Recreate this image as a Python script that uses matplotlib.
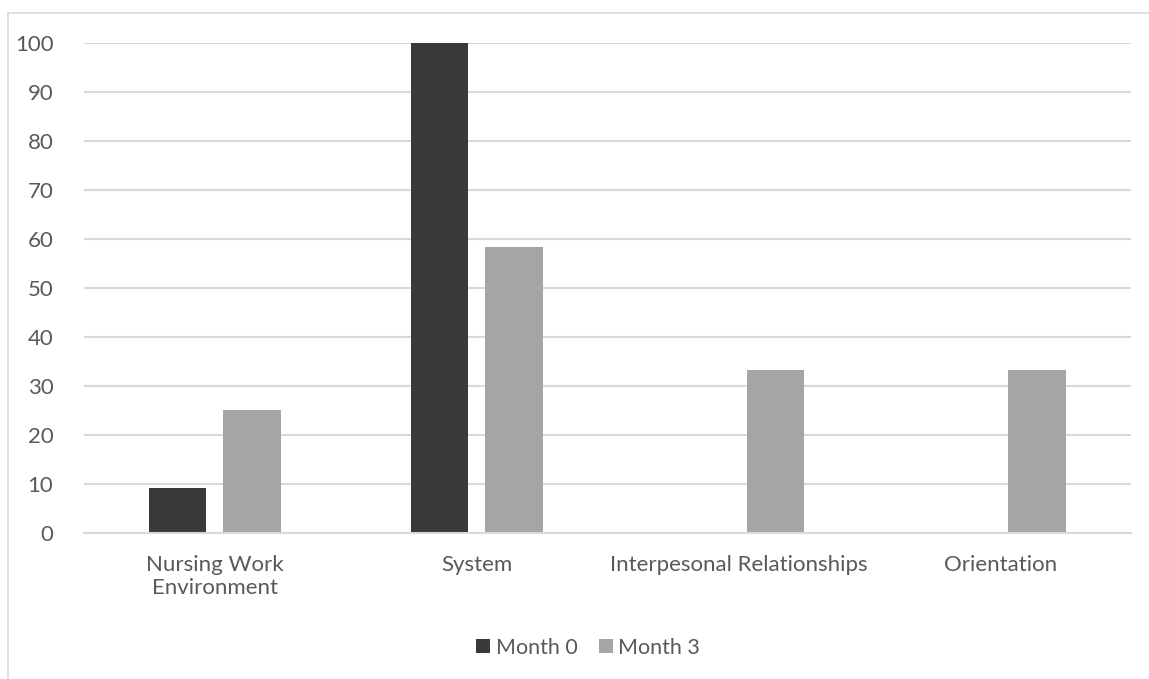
import numpy as np
import matplotlib.pyplot as plt
from matplotlib.lines import Line2D

# datos
categorias = ['Nursing Work\nEnvironment', 'System', 'Interpesonal Relationships', 'Orientation']
mes0 = [9.1, 100, 0, 0]
mes3 = [25, 58.3, 33.3, 33.3]
ticks_y = [0, 10, 20, 30, 40, 50, 60, 70, 80, 90, 100]

plt.rcParams['font.family'] = ['Lato', 'DejaVu Sans']
gris_texto = '#595959'
gris_linea = '#d9d9d9'
tam = 16

fig = plt.figure(figsize=(11.49, 6.79), dpi=100)
ax = fig.add_axes([0.0731, 0.215, 0.9112, 0.7218])

x = np.arange(len(categorias))
ancho = 0.22
ax.bar(x - 0.142, mes0, ancho, color='#3a3938', label='Month 0', zorder=3)
ax.bar(x + 0.142, mes3, ancho, color='#a5a5a5', label='Month 3', zorder=3)

ax.set_xlim(-0.5, len(categorias) - 0.5)
ax.set_ylim(0, 100)
ax.set_yticks(ticks_y)
ax.set_xticks(x)
ax.set_xticklabels(categorias, linespacing=1.2)
ax.yaxis.grid(True, color=gris_linea, linewidth=1.5, zorder=0)
ax.tick_params(axis='both', length=0, labelsize=tam, colors=gris_texto)
ax.tick_params(axis='y', pad=22)
ax.tick_params(axis='x', pad=16)
for s in ['top', 'right', 'left']:
    ax.spines[s].set_visible(False)
ax.spines['bottom'].set_color(gris_linea)
ax.spines['bottom'].set_linewidth(1.5)
ax.spines['bottom'].set_zorder(4)

# marco del gráfico
fig.add_artist(Line2D([8 / 1149, 1.0], [1 - 13 / 679] * 2, color=gris_linea, lw=1.2))
fig.add_artist(Line2D([8 / 1149] * 2, [0, 1 - 13 / 679], color=gris_linea, lw=1.2))

fig.legend(loc='center', bbox_to_anchor=(0.512, 0.046), ncol=2, frameon=False,
           fontsize=tam - 0.5, labelcolor=gris_texto, handlelength=0.65, handleheight=0.65,
           handletextpad=0.25, columnspacing=1.0)

fig.savefig('out.png', dpi=100)
